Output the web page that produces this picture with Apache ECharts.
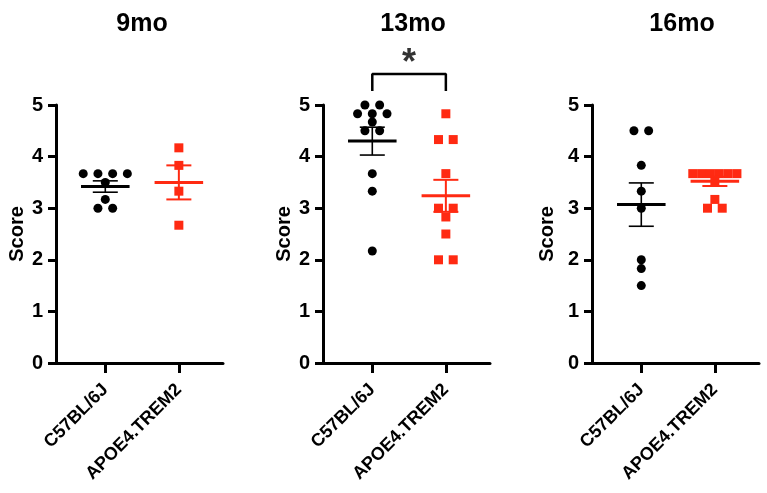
<!DOCTYPE html>
<html>
<head>
<meta charset="utf-8">
<script src="https://cdn.jsdelivr.net/npm/echarts@6/dist/echarts.min.js"></script>
<style>
  html, body { margin: 0; padding: 0; background: #fff; }
  #main { width: 767px; height: 493px; }
</style>
</head>
<body>
<div id="main"></div>
<script>
// 数据
var groups = ['C57BL/6J', 'APOE4.TREM2'];
var titles = ['9mo', '13mo', '16mo'];
var yTicks = [0, 1, 2, 3, 4, 5];

var wt9 = [3.67, 3.67, 3.67, 3.67, 3.5, 3.17, 3, 3];
var ap9 = [4.17, 3.83, 3.33, 2.67];
var wt13 = [5, 5, 4.83, 4.83, 4.83, 4.67, 4.5, 4.5, 3.67, 3.33, 2.17];
var ap13 = [4.83, 4.33, 4.33, 3.67, 3, 3, 2.83, 2.5, 2, 2];
var wt16 = [4.5, 4.5, 3.83, 3.33, 3, 2, 1.83, 1.5];
var ap16 = [3.67, 3.67, 3.67, 3.67, 3.67, 3.67, 3.5, 3.17, 3, 3];

var wtMean = [3.42, 4.30, 3.07];
var wtSem = [0.11, 0.27, 0.42];
var apMean = [3.50, 3.24, 3.52];
var apSem = [0.33, 0.31, 0.09];

// 13mo significance bracket
var bracketX = [1, 1, 2, 2];
var bracketY = [5.27, 5.6, 5.6, 5.27];
var starPos = [1.5, 5.8];

var BLACK = '#000000';
var RED = '#ff2a12';
var FONT = 'Liberation Sans';

// spread equal values side by side (like a Prism scatter dot plot)
function spread(values, center) {
  var counts = {}, seen = {};
  values.forEach(function (v) { counts[v] = (counts[v] || 0) + 1; });
  return values.map(function (v) {
    var n = counts[v];
    var i = seen[v] || 0;
    seen[v] = i + 1;
    var step = (n - 1) * 0.2 > 0.6 ? 0.6 / (n - 1) : 0.2;
    return [center + (i - (n - 1) / 2) * step, v];
  });
}

function meanSem(params, api) {
  var x = api.value(0), m = api.value(1), s = api.value(2);
  var color = api.visual('color');
  var l = api.coord([x - 0.33, m]);
  var r = api.coord([x + 0.33, m]);
  var top = api.coord([x, m + s]);
  var bot = api.coord([x, m - s]);
  var cl = api.coord([x - 0.17, m])[0];
  var cr = api.coord([x + 0.17, m])[0];
  var thin = color === BLACK ? 1.6 : 2;
  return {
    type: 'group',
    children: [
      { type: 'line', shape: { x1: top[0], y1: top[1], x2: bot[0], y2: bot[1] }, style: { stroke: color, lineWidth: thin } },
      { type: 'line', shape: { x1: cl, y1: top[1], x2: cr, y2: top[1] }, style: { stroke: color, lineWidth: thin } },
      { type: 'line', shape: { x1: cl, y1: bot[1], x2: cr, y2: bot[1] }, style: { stroke: color, lineWidth: thin } },
      { type: 'line', shape: { x1: l[0], y1: l[1], x2: r[0], y2: r[1] }, style: { stroke: color, lineWidth: 3 } }
    ]
  };
}

var myChart = echarts.init(document.getElementById('main'));

var lefts = [56, 323, 592];
var nameGaps = [27, 27, 35];
var titleX = [137, 408, 677];
var grids = [], xAxes = [], yAxes = [], series = [], titleList = [];
var wtAll = [wt9, wt13, wt16];
var apAll = [ap9, ap13, ap16];

for (var k = 0; k < 3; k++) {
  grids.push({ left: lefts[k], top: 105, width: 167, height: 258 });
  titleList.push({
    text: titles[k], left: titleX[k], top: 7, textAlign: 'center',
    textStyle: { fontFamily: FONT, fontWeight: 'bold', fontSize: 25, color: BLACK }
  });
  xAxes.push({
    gridIndex: k, type: 'value', min: 0.33, max: 2.6,
    splitLine: { show: false },
    axisLine: { show: true, onZero: false, lineStyle: { color: BLACK, width: 3 } },
    axisTick: { show: true, customValues: [1, 2], length: 10, lineStyle: { color: BLACK, width: 3 } },
    axisLabel: {
      customValues: [1, 2], rotate: 45, margin: 24,
      formatter: function (v) { return groups[Math.round(v) - 1]; },
      fontFamily: FONT, fontWeight: 'bold', fontSize: 18, color: BLACK
    }
  });
  yAxes.push({
    gridIndex: k, type: 'value', min: 0, max: 5, interval: 1,
    name: 'Score', nameLocation: 'middle', nameGap: nameGaps[k],
    nameTextStyle: { fontFamily: FONT, fontWeight: 'bold', fontSize: 20, color: BLACK },
    splitLine: { show: false },
    axisLine: { show: true, onZero: false, lineStyle: { color: BLACK, width: 3 } },
    axisTick: { show: true, length: 8, lineStyle: { color: BLACK, width: 3 } },
    axisLabel: { margin: 13, fontFamily: FONT, fontWeight: 'bold', fontSize: 20, color: BLACK }
  });
  series.push({
    type: 'scatter', xAxisIndex: k, yAxisIndex: k, clip: false,
    symbol: 'circle', symbolSize: 9, itemStyle: { color: BLACK, opacity: 1 },
    data: spread(wtAll[k], 1)
  });
  series.push({
    type: 'scatter', xAxisIndex: k, yAxisIndex: k, clip: false,
    symbol: 'rect', symbolSize: 9, itemStyle: { color: RED, opacity: 1 },
    data: spread(apAll[k], 2)
  });
  series.push({
    type: 'custom', xAxisIndex: k, yAxisIndex: k, z: 5,
    renderItem: meanSem, itemStyle: { color: BLACK },
    data: [[1, wtMean[k], wtSem[k]]]
  });
  series.push({
    type: 'custom', xAxisIndex: k, yAxisIndex: k, z: 5,
    renderItem: meanSem, itemStyle: { color: RED },
    data: [[2, apMean[k], apSem[k]]]
  });
}

series.push({
  type: 'line', xAxisIndex: 1, yAxisIndex: 1, clip: false,
  symbol: 'none', lineStyle: { color: BLACK, width: 2.5 },
  data: bracketX.map(function (x, i) { return [x, bracketY[i]]; })
});
series.push({
  type: 'scatter', xAxisIndex: 1, yAxisIndex: 1, clip: false,
  symbolSize: 1, itemStyle: { color: 'rgba(0,0,0,0)' },
  label: {
    show: true, position: 'inside', formatter: '*',
    fontFamily: FONT, fontWeight: 'bold', fontSize: 36, color: BLACK
  },
  data: [starPos]
});

option = {
  animation: false,
  backgroundColor: '#ffffff',
  title: titleList,
  grid: grids,
  xAxis: xAxes,
  yAxis: yAxes,
  series: series
};

myChart.setOption(option);

window.addEventListener('resize', function () {
  myChart.resize();
});
</script>
</body>
</html>
